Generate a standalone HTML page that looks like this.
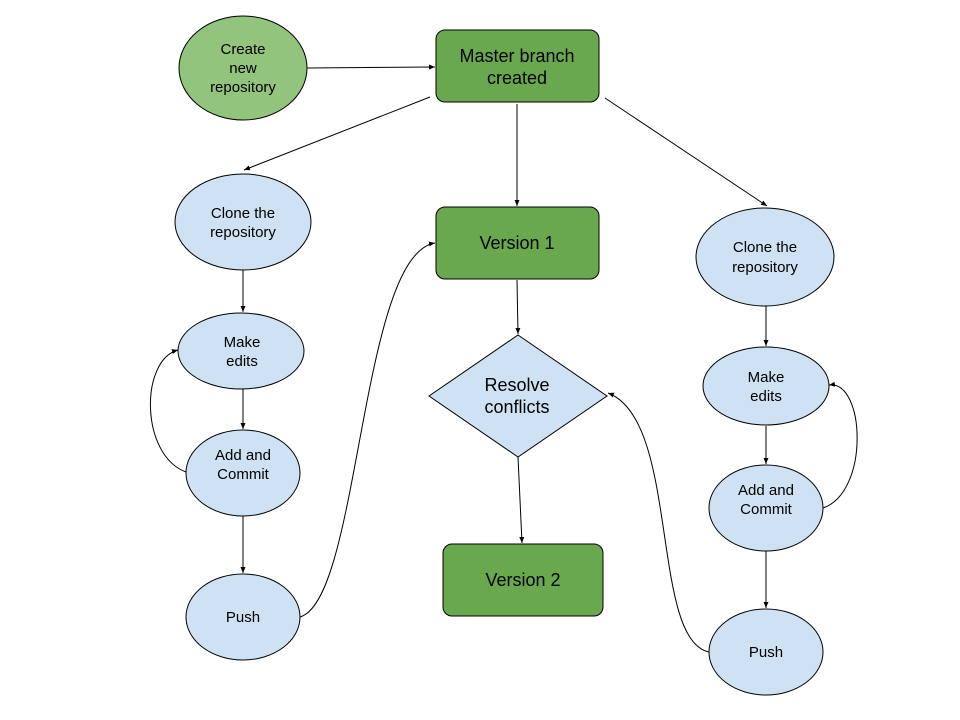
<!DOCTYPE html>
<html><head><meta charset="utf-8"><style>
html,body{margin:0;padding:0;background:#fff;width:960px;height:720px;overflow:hidden}
text{font-family:"Liberation Sans",Arial,sans-serif;fill:#000;text-anchor:middle}
</style></head><body>
<svg width="960" height="720" viewBox="0 0 960 720" xmlns="http://www.w3.org/2000/svg">
<defs><marker id="a" markerWidth="6" markerHeight="5" refX="6" refY="2.5" orient="auto" markerUnits="userSpaceOnUse"><path d="M0,0 L6,2.5 L0,5 z" fill="#000"/></marker></defs>
<g stroke="#000" stroke-width="1" fill="none" marker-end="url(#a)">
<path d="M307,68 L435,67"/>
<path d="M430,97 L244,170"/>
<path d="M517,104 L517,206"/>
<path d="M605,98 L767,206"/>
<path d="M243,270 L243,312"/>
<path d="M243,389 L243,429"/>
<path d="M243,516 L243,573"/>
<path d="M186,472 C140,455 140,360 178,350"/>
<path d="M300,617 C360,600 360,255 435,243"/>
<path d="M517,280 L518,334"/>
<path d="M518,457 L522,543"/>
<path d="M709,652 C650,640 680,420 608,393"/>
<path d="M766,306 L766,346"/>
<path d="M766,426 L766,464"/>
<path d="M766,551 L766,608"/>
<path d="M823,508 C870,492 865,380 829,385"/>
</g>
<g stroke="#000" stroke-width="1">
<ellipse cx="243" cy="68" rx="64" ry="52" fill="#93c47d"/>
<rect x="436" y="30" width="163" height="72" rx="9" fill="#6aa84f"/>
<ellipse cx="243" cy="222" rx="68" ry="48" fill="#cfe2f3"/>
<ellipse cx="241" cy="351" rx="63" ry="38" fill="#cfe2f3"/>
<ellipse cx="243" cy="473" rx="57" ry="43" fill="#cfe2f3"/>
<ellipse cx="243" cy="617" rx="57" ry="43" fill="#cfe2f3"/>
<rect x="436" y="207" width="163" height="72" rx="9" fill="#6aa84f"/>
<path d="M518,335 L607,396 L518,457 L429,396 Z" fill="#cfe2f3"/>
<rect x="443" y="544" width="160" height="72" rx="9" fill="#6aa84f"/>
<ellipse cx="765" cy="257" rx="69" ry="49" fill="#cfe2f3"/>
<ellipse cx="766" cy="386" rx="63" ry="39" fill="#cfe2f3"/>
<ellipse cx="766" cy="508" rx="57" ry="43" fill="#cfe2f3"/>
<ellipse cx="766" cy="652" rx="57" ry="43" fill="#cfe2f3"/>
</g>
<g font-size="15">
<text x="243" y="54">Create</text><text x="243" y="73">new</text><text x="243" y="92">repository</text>
<text x="243" y="218">Clone the</text><text x="243" y="237">repository</text>
<text x="242" y="347">Make</text><text x="242" y="366">edits</text>
<text x="243" y="460">Add and</text><text x="243" y="479">Commit</text>
<text x="243" y="622">Push</text>
<text x="765" y="252">Clone the</text><text x="765" y="272">repository</text>
<text x="766" y="382">Make</text><text x="766" y="401">edits</text>
<text x="766" y="495">Add and</text><text x="766" y="514">Commit</text>
<text x="766" y="657">Push</text>
</g>
<g font-size="18">
<text x="517" y="62">Master branch</text><text x="517" y="84">created</text>
<text x="517" y="249">Version 1</text>
<text x="517" y="391">Resolve</text><text x="517" y="413">conflicts</text>
<text x="523" y="586">Version 2</text>
</g>
</svg>
</body></html>
